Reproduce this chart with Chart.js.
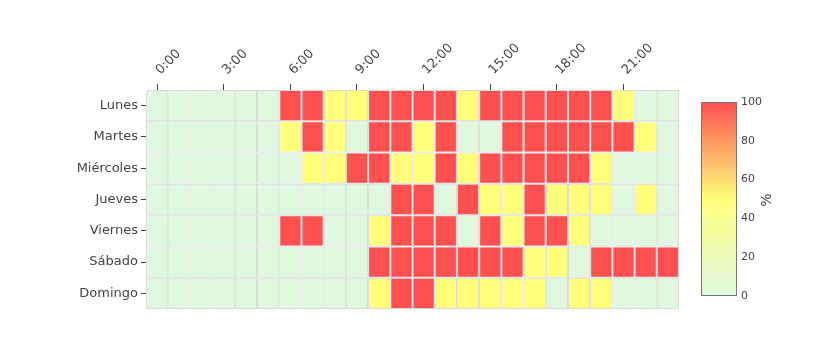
<!DOCTYPE html>
<html>
<head>
<meta charset="utf-8">
<script src="https://cdn.jsdelivr.net/npm/chart.js@4/dist/chart.umd.min.js"></script>
<style>
  html, body { margin: 0; padding: 0; background: #fff; }
  #wrap { width: 837px; height: 343px; position: relative; }
</style>
</head>
<body>
<div id="wrap"><canvas id="heat"></canvas></div>
<script>
// Hour-of-day columns and weekday rows
const hours = ['0:00','1:00','2:00','3:00','4:00','5:00','6:00','7:00','8:00','9:00','10:00','11:00',
               '12:00','13:00','14:00','15:00','16:00','17:00','18:00','19:00','20:00','21:00','22:00','23:00'];
const days = ['Lunes','Martes','Miércoles','Jueves','Viernes','Sábado','Domingo'];

// Occupancy (%) per hour for each day
const lunes     = [0,0,0,0,0,0,100,100,50,50,100,100,100,100,50,100,100,100,100,100,100,50,0,0];
const martes    = [0,0,0,0,0,0,50,100,50,0,100,100,50,100,0,0,100,100,100,100,100,100,50,0];
const miercoles = [0,0,0,0,0,0,0,50,50,100,100,50,50,100,50,100,100,100,100,100,50,0,0,0];
const jueves    = [0,0,0,0,0,0,0,0,0,0,0,100,100,0,100,50,50,100,50,50,50,0,50,0];
const viernes   = [0,0,0,0,0,0,100,100,0,0,50,100,100,100,0,100,50,100,100,50,0,0,0,0];
const sabado    = [0,0,0,0,0,0,0,0,0,0,100,100,100,100,100,100,100,50,50,0,100,100,100,100];
const domingo   = [0,0,0,0,0,0,0,0,0,0,50,100,100,50,50,50,50,50,0,50,50,0,0,0];
const rows = [lunes, martes, miercoles, jueves, viernes, sabado, domingo];

// Colour bar ticks
const scaleTicks = [0, 20, 40, 60, 80, 100];

// Colour scale: light green -> yellow -> red
const stops = [
  [0.0, [224, 247, 224]],
  [0.5, [255, 255, 122]],
  [1.0, [255, 80, 80]]
];
function colorFor(v) {
  const t = Math.max(0, Math.min(1, v / 100));
  for (let i = 1; i < stops.length; i++) {
    const [p1, c1] = stops[i - 1];
    const [p2, c2] = stops[i];
    if (t <= p2) {
      const f = (t - p1) / (p2 - p1);
      const c = c1.map((a, k) => Math.round(a + (c2[k] - a) * f));
      return `rgb(${c[0]},${c[1]},${c[2]})`;
    }
  }
  const c = stops[stops.length - 1][1];
  return `rgb(${c[0]},${c[1]},${c[2]})`;
}

const FONT = '"DejaVu Sans", Verdana, sans-serif';
const TEXT = '#444';

// Each weekday is one row of floating bars spanning [row-0.5, row+0.5]
const datasets = rows.map((vals, r) => ({
  label: days[r],
  data: vals.map(() => [r - 0.5, r + 0.5]),
  backgroundColor: vals.map(colorFor),
  borderColor: 'rgb(216,216,216)',
  borderWidth: 1,
  borderSkipped: false,
  inflateAmount: 0,
  barPercentage: 1,
  categoryPercentage: 1,
  grouped: false
}));

// Vertical colour bar with its tick labels and title
const colorBar = {
  id: 'colorBar',
  afterDraw(chart) {
    const ctx = chart.ctx;
    const x = 701, w = 36, top = 102, bottom = 296;
    const g = ctx.createLinearGradient(0, bottom, 0, top);
    stops.forEach(([p, c]) => g.addColorStop(p, `rgb(${c[0]},${c[1]},${c[2]})`));
    ctx.save();
    ctx.fillStyle = g;
    ctx.fillRect(x, top, w, bottom - top);
    ctx.strokeStyle = '#777';
    ctx.lineWidth = 1;
    ctx.strokeRect(x + 0.5, top + 0.5, w - 1, bottom - top - 1);
    ctx.fillStyle = TEXT;
    ctx.font = `11px ${FONT}`;
    ctx.textAlign = 'left';
    ctx.textBaseline = 'middle';
    scaleTicks.forEach(v => {
      const y = bottom - (v / 100) * (bottom - top);
      ctx.fillText(String(v), x + w + 4, y);
    });
    ctx.translate(767, 200);
    ctx.rotate(-Math.PI / 2);
    ctx.font = `14px ${FONT}`;
    ctx.textAlign = 'center';
    ctx.fillText('%', 0, 0);
    ctx.restore();
  }
};

new Chart(document.getElementById('heat'), {
  type: 'bar',
  data: { labels: hours, datasets },
  options: {
    responsive: true,
    maintainAspectRatio: false,
    animation: false,
    layout: { padding: { left: 0, right: 158, top: 0, bottom: 34 } },
    plugins: { legend: { display: false }, tooltip: { enabled: false } },
    scales: {
      x: {
        position: 'top',
        offset: true,
        border: { display: false },
        grid: {
          drawOnChartArea: false,
          offset: false,
          tickLength: 6,
          tickColor: c => (c.index % 3 === 0 ? TEXT : 'rgba(0,0,0,0)')
        },
        ticks: {
          autoSkip: false,
          minRotation: 45,
          maxRotation: 45,
          padding: 6,
          labelOffset: 12,
          color: TEXT,
          font: { family: FONT, size: 13 },
          callback: function (v, i) { return i % 3 === 0 ? this.getLabelForValue(v) : ''; }
        },
        afterFit: s => { s.height = 90; }
      },
      y: {
        type: 'linear',
        reverse: true,
        min: -0.5,
        max: 6.5,
        border: { display: false },
        grid: { drawOnChartArea: false, tickLength: 5, tickColor: TEXT },
        afterBuildTicks: s => { s.ticks = days.map((d, i) => ({ value: i })); },
        ticks: {
          padding: 3,
          color: TEXT,
          font: { family: FONT, size: 13 },
          callback: v => days[v]
        },
        afterFit: s => { s.width = 146; }
      }
    }
  },
  plugins: [colorBar]
});
</script>
</body>
</html>
